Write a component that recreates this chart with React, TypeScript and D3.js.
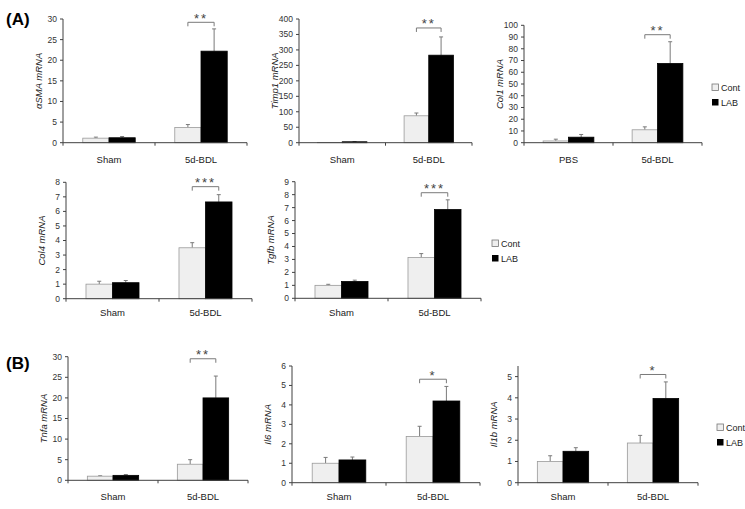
import React from "react";
import * as d3 from "d3";

// ---- data ----
const genes = ["αSMA", "Timp1", "Col1", "Col4", "Tgfb", "Tnfa", "Il6", "Il1b"];
const groupsDefault = ["Sham", "5d-BDL"];
const groupsCol1 = ["PBS", "5d-BDL"];
const seriesNames = ["Cont", "LAB"];
const contMeans = [[1.1, 3.7], [1, 87], [1.5, 11], [1.0, 3.5], [1.0, 3.15], [1.0, 3.9], [1.0, 2.38], [1.0, 1.87]];
const contSE = [[0.25, 0.7], [0, 9], [1.5, 2.5], [0.2, 0.35], [0.08, 0.3], [0.1, 1.1], [0.3, 0.52], [0.27, 0.36]];
const labMeans = [[1.2, 22.2], [3, 283], [4.7, 67.5], [1.1, 6.65], [1.3, 6.85], [1.2, 20], [1.17, 4.2], [1.48, 3.97]];
const labSE = [[0.3, 5.4], [0.5, 59], [2.3, 18.5], [0.15, 0.5], [0.1, 0.75], [0.2, 5.3], [0.15, 0.75], [0.17, 0.78]];
const yMax = [30, 400, 100, 8, 9, 30, 6, 5.5];
const yStep = [5, 50, 10, 1, 1, 5, 1, 1];
const yTickMax = [30, 400, 100, 8, 9, 30, 6, 5];
const stars = ["**", "**", "**", "***", "***", "**", "*", "*"];
const bracketValues = [29.2, 371, 92, 7.7, 8.15, 29.5, 5.32, 5.1];

// ---- layout (pixel boxes of each panel's plot area) ----
const layout = [
  { x0: 63, x1: 247, top: 19, bottom: 142.7, legend: null, catY: 163 },
  { x0: 299, x1: 472, top: 19, bottom: 142.7, legend: null, catY: 163 },
  { x0: 524, x1: 702, top: 25.3, bottom: 142.7, legend: { x: 712, y: 84 }, catY: 163 },
  { x0: 66, x1: 252, top: 182.3, bottom: 298.7, legend: null, catY: 316 },
  { x0: 295, x1: 481, top: 181.7, bottom: 298.3, legend: { x: 492, y: 240 }, catY: 316 },
  { x0: 68, x1: 248, top: 356.7, bottom: 480.3, legend: null, catY: 500 },
  { x0: 292, x1: 480, top: 366, bottom: 482.7, legend: null, catY: 500 },
  { x0: 518, x1: 698, top: 366, bottom: 482.7, legend: { x: 717, y: 424 }, catY: 500 },
];

const FONT = "'Liberation Sans', Arial, sans-serif";
const AXIS = "#404040";
const ERR = "#7a7a7a";
const CONT_FILL = "#efefef";
const CONT_STROKE = "#9a9a9a";

function Panel({ i }: { i: number }) {
  const L = layout[i];
  const groups = i === 2 ? groupsCol1 : groupsDefault;
  const y = d3.scaleLinear().domain([0, yMax[i]]).range([L.bottom, L.top]);
  const x = d3.scaleBand<string>().domain(groups).range([L.x0, L.x1]).padding(0);
  const inner = d3
    .scaleBand<string>()
    .domain(seriesNames)
    .range([0, x.bandwidth()])
    .paddingInner(0)
    .paddingOuter(0.754);
  const ticks = d3.range(0, yTickMax[i] + yStep[i] / 2, yStep[i]);
  const means = [contMeans[i], labMeans[i]];
  const ses = [contSE[i], labSE[i]];
  const bw = inner.bandwidth();
  const bdlX = x(groups[1])!;
  const cCont = bdlX + inner("Cont")! + bw / 2;
  const cLab = bdlX + inner("LAB")! + bw / 2;
  const by = y(bracketValues[i]);
  const midY = (L.top + L.bottom) / 2;

  return (
    <g>
      {/* bars */}
      {groups.map((g, gi) =>
        seriesNames.map((s, si) => {
          const bx = x(g)! + inner(s)!;
          const v = means[si][gi];
          const top = y(v);
          const errTop = y(v + ses[si][gi]);
          const cx = bx + bw / 2;
          return (
            <g key={g + s}>
              {ses[si][gi] > 0 && (
                <g stroke={ERR} strokeWidth={1}>
                  <line x1={cx} x2={cx} y1={top} y2={errTop} />
                  <line x1={cx - 2} x2={cx + 2} y1={errTop} y2={errTop} />
                </g>
              )}
              <rect
                x={bx}
                y={top}
                width={bw}
                height={Math.max(0, L.bottom - top)}
                fill={si === 0 ? CONT_FILL : "#000"}
                stroke={si === 0 ? CONT_STROKE : "#000"}
                strokeWidth={0.8}
              />
            </g>
          );
        })
      )}
      {/* y axis */}
      <line x1={L.x0} x2={L.x0} y1={L.top} y2={L.bottom} stroke={AXIS} strokeWidth={1} />
      {ticks.map((t) => (
        <g key={t}>
          <line x1={L.x0 - 3} x2={L.x0} y1={y(t)} y2={y(t)} stroke={AXIS} />
          <text x={L.x0 - 6} y={y(t)} dy="0.35em" textAnchor="end" fontSize={8.5} fill="#333" fontFamily={FONT}>
            {t}
          </text>
        </g>
      ))}
      {/* x axis */}
      <line x1={L.x0} x2={L.x1} y1={L.bottom} y2={L.bottom} stroke={AXIS} strokeWidth={1} />
      {[L.x0, (L.x0 + L.x1) / 2, L.x1].map((tx, k) => (
        <line key={k} x1={tx} x2={tx} y1={L.bottom} y2={L.bottom + 3} stroke={AXIS} />
      ))}
      {groups.map((g) => (
        <text
          key={g}
          x={x(g)! + x.bandwidth() / 2}
          y={L.catY}
          textAnchor="middle"
          fontSize={9.5}
          fill="#222"
          fontFamily={FONT}
        >
          {g}
        </text>
      ))}
      {/* y label */}
      <text
        transform={`translate(${L.x0 - 21},${midY}) rotate(-90)`}
        textAnchor="middle"
        fontSize={9.5}
        fontStyle="italic"
        fill="#222"
        fontFamily={FONT}
      >
        {genes[i] + " mRNA"}
      </text>
      {/* significance bracket */}
      <path
        d={`M${cCont},${by + 4}V${by}H${cLab}V${by + 4}`}
        fill="none"
        stroke={ERR}
        strokeWidth={1}
      />
      <text
        x={(cCont + cLab) / 2}
        y={by + 0.5}
        textAnchor="middle"
        fontSize={13}
        fill="#444"
        fontFamily={FONT}
        letterSpacing={2}
      >
        {stars[i]}
      </text>
      {/* legend */}
      {L.legend && (
        <g fontFamily={FONT} fontSize={9} fill="#222">
          <rect x={L.legend.x} y={L.legend.y} width={6.5} height={6.5} fill={CONT_FILL} stroke="#777" strokeWidth={0.8} />
          <text x={L.legend.x + 9} y={L.legend.y + 6.5}>
            {seriesNames[0]}
          </text>
          <rect x={L.legend.x} y={L.legend.y + 15} width={6.5} height={6.5} fill="#000" />
          <text x={L.legend.x + 9} y={L.legend.y + 21.5}>
            {seriesNames[1]}
          </text>
        </g>
      )}
    </g>
  );
}

export default function App() {
  return (
    <svg
      width={745}
      height={509}
      style={{ position: "absolute", left: 0, top: 0, background: "#fff" }}
    >
      <rect width={745} height={509} fill="#fff" />
      <text x={6} y={25} fontSize={17} fontWeight="bold" fontFamily={FONT} fill="#000">
        (A)
      </text>
      <text x={6} y={369} fontSize={17} fontWeight="bold" fontFamily={FONT} fill="#000">
        (B)
      </text>
      {genes.map((_, i) => (
        <Panel key={i} i={i} />
      ))}
    </svg>
  );
}
